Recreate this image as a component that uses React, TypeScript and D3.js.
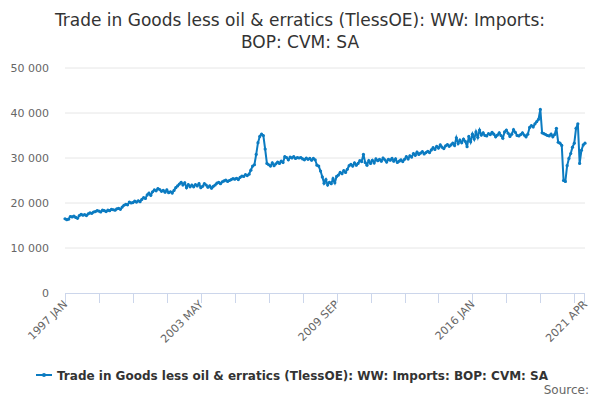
import { useEffect, useRef } from "react";
import * as d3 from "d3";

const TITLE = ["Trade in Goods less oil & erratics (TlessOE): WW: Imports:", "BOP: CVM: SA"];
const SERIES = "Trade in Goods less oil & erratics (TlessOE): WW: Imports: BOP: CVM: SA";
const MONTHS = ["JAN", "FEB", "MAR", "APR", "MAY", "JUN", "JUL", "AUG", "SEP", "OCT", "NOV", "DEC"];
const Y_TICKS = [0, 10000, 20000, 30000, 40000, 50000];

// monthly values by year, 1997 JAN .. 2021 APR
const VALUES: number[] = [
  // 1997
  16500, 16300, 16400, 17000, 16900, 17100, 16800, 16600, 17200, 17500, 17300, 17400,
  // 1998
  17200, 17600, 17800, 17700, 18000, 18100, 18300, 18200, 18000, 18400, 18300, 18100,
  // 1999
  18400, 18300, 18600, 18500, 18400, 18700, 18800, 18600, 19100, 19500, 19700, 19600,
  // 2000
  20200, 20000, 20100, 20400, 20200, 20500, 20300, 20800, 21200, 21000, 21800, 22200,
  // 2001
  21700, 22500, 22900, 22700, 23200, 23000, 22600, 22800, 22400, 22900, 22300, 22500,
  // 2002
  22200, 22800, 23400, 23800, 24200, 24600, 24000, 24500, 23400, 24100, 23600, 24000,
  // 2003
  23600, 24100, 23800, 24300, 23400, 23700, 24300, 24000, 23500, 23800, 23300, 23700,
  // 2004
  24000, 24400, 24600, 24300, 24700, 24900, 25100, 24800, 25000, 25200, 25400, 25300,
  // 2005
  25500, 25200, 25700, 26000, 25900, 26300, 26100, 26400, 27300, 28200, 28500, 30800,
  // 2006
  33400, 34800, 35300, 35000, 32000, 28800, 28500, 28200, 28900, 28300, 28700, 29100,
  // 2007
  28800, 29300, 29000, 30300, 30100, 29600, 30200, 30000, 30300, 29900, 30100, 30000,
  // 2008
  30100, 29800, 29600, 30000, 29700, 29900, 29500, 29900, 29600, 28400, 28200, 27100,
  // 2009
  25800, 24400, 25200, 24000, 24600, 24300, 25400, 24500, 25900, 26200, 26800, 26500,
  // 2010
  27200, 26800, 27500, 28300, 28600, 28200, 28900, 28400, 28800, 29400, 29200, 30800,
  // 2011
  29000, 28400, 29400, 28800, 29500, 28900, 29800, 29400, 29700, 29300, 30000, 29600,
  // 2012
  29100, 29700, 29500, 29900, 29300, 29800, 29000, 29300, 29600, 29200, 29700, 30300,
  // 2013
  29800, 30500, 30200, 31000, 30600, 31300, 30800, 31100, 31400, 30900, 31200, 31500,
  // 2014
  31200, 31800, 32300, 31900, 32600, 32200, 32900, 32400, 32100, 32700, 33000, 32600,
  // 2015
  32900, 33300, 32800, 34500, 33200, 34000, 33400, 34200, 33700, 32500, 34800, 33600,
  // 2016
  35300, 34200, 35800, 34600, 36200, 35100, 35600, 35000, 34900, 35400, 35200, 35700,
  // 2017
  35300, 34700, 35100, 35600, 35000, 34400, 35800, 36200, 35500, 34800, 35300, 36300,
  // 2018
  35700, 35000, 34900, 35200, 35600, 35100, 34700, 35300, 36800, 37200, 36900, 37600,
  // 2019
  38100, 38600, 40800, 35600, 35400, 35200, 35000, 34900, 35300, 34700, 35200, 36600,
  // 2020
  33500, 33300, 32800, 25000, 24800, 28300, 29900, 31000, 32400, 33300, 36600, 37600,
  // 2021
  28800, 31700, 32900, 33300,
];

function label(i: number): string {
  return `${1997 + Math.floor(i / 12)} ${MONTHS[i % 12]}`;
}

export default function App() {
  const ref = useRef<SVGSVGElement>(null);

  useEffect(() => {
    if (!ref.current) return;
    const W = 600;
    const ML = 65, MR = 15, MT = 68, PB = 293;
    const svg = d3.select(ref.current);
    svg.selectAll("*").remove();

    const x = d3.scaleLinear().domain([0, VALUES.length - 1]).range([ML, W - MR]);
    const y = d3.scaleLinear().domain([0, 50000]).range([PB, MT]);
    const font = "'DejaVu Sans', sans-serif";

    svg.append("g").selectAll("text").data(TITLE).join("text")
      .attr("x", W / 2).attr("y", (_, i) => 26 + i * 22)
      .attr("text-anchor", "middle").attr("font-family", font)
      .attr("font-size", 17).attr("fill", "#333").text(d => d);

    const fmt = (v: number) => d3.format(",")(v).replace(/,/g, " ");
    const yg = svg.append("g");
    Y_TICKS.forEach(t => {
      if (t > 0) {
        yg.append("line").attr("x1", ML).attr("x2", W - MR)
          .attr("y1", y(t)).attr("y2", y(t)).attr("stroke", "#e6e6e6");
      }
      yg.append("text").attr("x", ML - 16).attr("y", y(t) + 4)
        .attr("text-anchor", "end").attr("font-family", font)
        .attr("font-size", 11).attr("fill", "#666").text(fmt(t));
    });

    // x axis
    const xg = svg.append("g");
    xg.append("line").attr("x1", ML).attr("x2", W - MR).attr("y1", PB + 0.5).attr("y2", PB + 0.5)
      .attr("stroke", "#ccd6eb");
    d3.range(0, VALUES.length, 19).concat([VALUES.length - 1]).forEach(i => {
      const xx = Math.min(Math.round(x(i)) + 0.5, W - MR - 0.5);
      xg.append("line").attr("x1", xx).attr("x2", xx)
        .attr("y1", PB).attr("y2", PB + 10).attr("stroke", "#ccd6eb");
    });
    const labelIdx = [0, 76, 152, 228, VALUES.length - 1];
    labelIdx.forEach(i => {
      xg.append("text")
        .attr("transform", `translate(${x(i) + 3},${PB + 12}) rotate(-45)`)
        .attr("text-anchor", "end").attr("font-family", font)
        .attr("font-size", 11).attr("fill", "#666").text(label(i));
    });

    const line = d3.line<number>().x((_, i) => x(i)).y(d => y(d));
    svg.append("path").datum(VALUES).attr("d", line)
      .attr("fill", "none").attr("stroke", "#0b7bc1").attr("stroke-width", 2);
    svg.append("g").selectAll("circle").data(VALUES).join("circle")
      .attr("cx", (_, i) => x(i)).attr("cy", d => y(d)).attr("r", 1.6).attr("fill", "#0b7bc1");

    // legend
    const lg = svg.append("g").attr("transform", "translate(36,375)");
    lg.append("line").attr("x1", 0).attr("x2", 16).attr("y1", 0).attr("y2", 0)
      .attr("stroke", "#0b7bc1").attr("stroke-width", 2);
    lg.append("circle").attr("cx", 8).attr("cy", 0).attr("r", 2).attr("fill", "#0b7bc1");
    lg.append("text").attr("x", 21).attr("y", 4.5).attr("font-family", font)
      .attr("font-size", 12).attr("font-weight", "bold").attr("fill", "#333").text(SERIES);

    svg.append("text").attr("x", 589).attr("y", 394).attr("text-anchor", "end")
      .attr("font-family", font).attr("font-size", 12).attr("fill", "#666").text("Source:");
  }, []);

  return <svg ref={ref} width={600} height={400} style={{ position: "absolute", left: 0, top: 0, background: "#fff" }} />;
}
